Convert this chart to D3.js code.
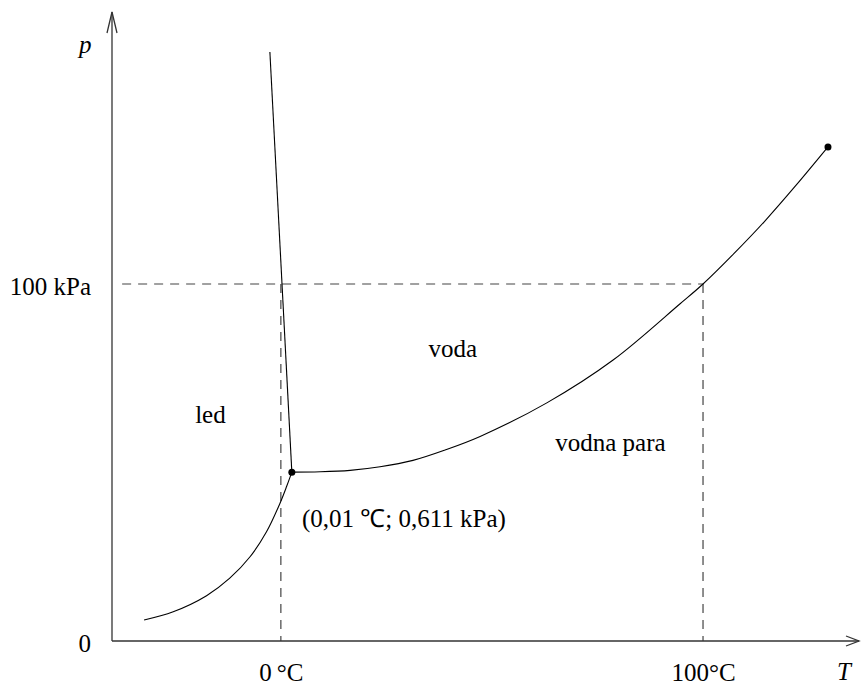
<!DOCTYPE html>
<html>
<head>
<meta charset="utf-8">
<script src="https://cdn.jsdelivr.net/npm/d3@7"></script>
<style>
  body { margin: 0; background: #fff; }
  svg { display: block; font-family: "Liberation Serif", "Times New Roman", serif; }
  .axis text { font-size: 25px; fill: #000; }
</style>
</head>
<body>
<script>
// schematic phase diagram of water (T in deg C-like units, p in % of 100 kPa)
var sublimation = [
  [-32.4, 5.9], [-25.5, 8.2], [-17.6, 12.7], [-12.1, 17.6], [-7.3, 23.6],
  [-3.4, 30.6], [-0.2, 38.6], [1.4, 43.4], [2.6, 47.3]
];
var vaporization = [
  [2.6, 47.3], [9.3, 47.4], [16.4, 47.8], [23.5, 48.8], [31.3, 50.6],
  [38.9, 53.5], [47.2, 57.3], [63.0, 66.7], [78.7, 78.7], [94.5, 94.4],
  [100, 100], [107.3, 108.5], [114.7, 117.7], [122.0, 127.6], [129.6, 138.4]
];
var melting = [[-2.6, 165.0], [2.6, 47.3]];
var dots = [[2.6, 47.3], [129.6, 138.4]];
var xTicks = [0, 100];
var xTickLabels = ["0\u2009°C", "100°C"];
var yTicks = [0, 100];
var yTickLabels = ["0", "100 kPa"];
var regions = [
  { text: "led", T: -20.3, p: 61.1 },
  { text: "voda", T: 35.0, p: 79.5 },
  { text: "vodna para", T: 65.0, p: 53.2 }
];
var tripleLabel = { text: "(0,01 ℃; 0,611 kPa)", T: 5.0, p: 32.0 };

var width = 861, height = 686;
var fontSize = 25;

var svg = d3.select("body").append("svg")
    .attr("width", width)
    .attr("height", height);

var x = d3.scaleLinear().domain([-40, 136]).range([112, 855]);
var y = d3.scaleLinear().domain([0, 100]).range([641, 284]);

// dashed guides
var dash = svg.append("g")
    .attr("stroke", "#444")
    .attr("stroke-width", 1.2)
    .attr("stroke-dasharray", "9,7")
    .attr("fill", "none");

dash.append("line")
    .attr("x1", x(-37.6)).attr("x2", x(100))
    .attr("y1", y(100)).attr("y2", y(100));

xTicks.forEach(function(t) {
  dash.append("line")
      .attr("x1", x(t)).attr("x2", x(t))
      .attr("y1", y(100)).attr("y2", y(0));
});

// axes (labels via d3 axes, lines drawn with arrows)
var xAxis = svg.append("g")
    .attr("class", "axis")
    .attr("transform", "translate(0," + y(0) + ")")
    .call(d3.axisBottom(x).tickValues(xTicks).tickSize(0).tickPadding(22)
      .tickFormat(function(d, i) { return xTickLabels[i]; }))
    .attr("font-family", null)
    .attr("font-size", null);
xAxis.select(".domain").remove();

var yAxis = svg.append("g")
    .attr("class", "axis")
    .attr("transform", "translate(" + x(-40) + ",0)")
    .call(d3.axisLeft(y).tickValues(yTicks).tickSize(0).tickPadding(21)
      .tickFormat(function(d, i) { return yTickLabels[i]; }))
    .attr("font-family", null)
    .attr("font-size", null);
yAxis.select(".domain").remove();
yAxis.selectAll("text").attr("dy", "0.42em");

var ax = svg.append("g")
    .attr("stroke", "#333")
    .attr("stroke-width", 1.3)
    .attr("fill", "none");

var x0 = x(-40), y0 = y(0), yTop = 12, xEnd = 859;
ax.append("path").attr("d", "M" + x0 + "," + y0 + "V" + yTop);
ax.append("path").attr("d", "M" + (x0 - 5) + "," + (yTop + 21) + "L" + x0 + "," + yTop + "L" + (x0 + 5) + "," + (yTop + 21));
ax.append("path").attr("d", "M" + x0 + "," + y0 + "H" + xEnd);
ax.append("path").attr("d", "M" + (xEnd - 13) + "," + (y0 - 5) + "L" + xEnd + "," + y0 + "L" + (xEnd - 13) + "," + (y0 + 5));

svg.append("text")
    .attr("x", 79).attr("y", 53)
    .attr("font-size", fontSize).attr("font-style", "italic")
    .text("p");

svg.append("text")
    .attr("x", 837).attr("y", 680)
    .attr("font-size", fontSize).attr("font-style", "italic")
    .text("T");

// phase boundaries
var line = d3.line()
    .x(function(d) { return x(d[0]); })
    .y(function(d) { return y(d[1]); });

var curves = svg.append("g")
    .attr("stroke", "#000")
    .attr("stroke-width", 1.1)
    .attr("fill", "none");

curves.append("path").attr("d", line.curve(d3.curveCatmullRom.alpha(0.5))(sublimation));
curves.append("path").attr("d", line.curve(d3.curveCatmullRom.alpha(0.5))(vaporization));
curves.append("path").attr("d", line.curve(d3.curveLinear)(melting));

svg.selectAll(".dot")
    .data(dots)
    .enter().append("circle")
    .attr("class", "dot")
    .attr("cx", function(d) { return x(d[0]); })
    .attr("cy", function(d) { return y(d[1]); })
    .attr("r", 3.5)
    .attr("fill", "#000");

// region labels
svg.selectAll(".region")
    .data(regions)
    .enter().append("text")
    .attr("class", "region")
    .attr("x", function(d) { return x(d.T); })
    .attr("y", function(d) { return y(d.p); })
    .attr("font-size", fontSize)
    .text(function(d) { return d.text; });

svg.append("text")
    .attr("x", x(tripleLabel.T))
    .attr("y", y(tripleLabel.p))
    .attr("font-size", fontSize)
    .text(tripleLabel.text);
</script>
</body>
</html>
